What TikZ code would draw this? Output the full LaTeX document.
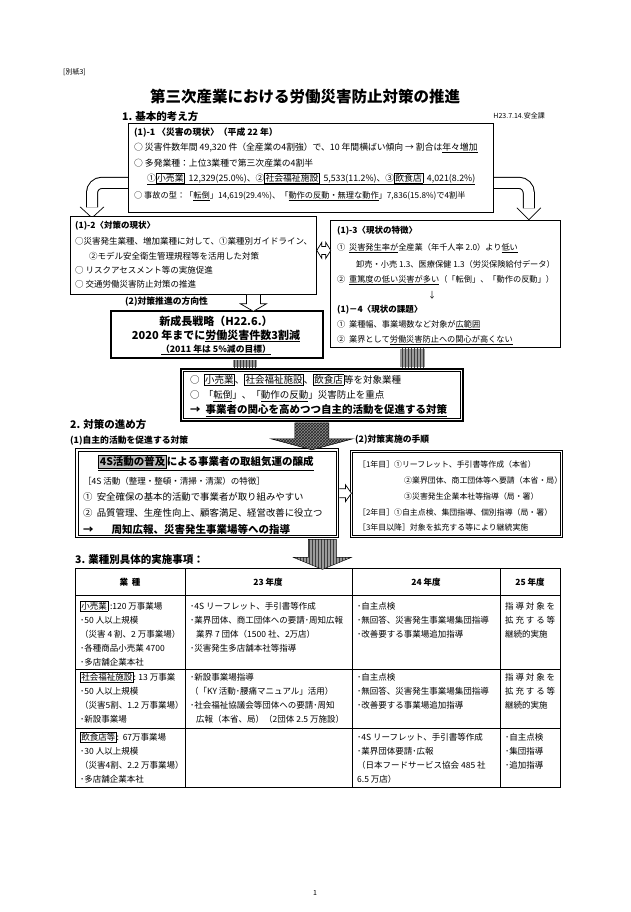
\documentclass[tikz,border=0pt]{standalone}
\usepackage{fontspec}
\setmainfont{Noto Sans CJK JP}
\usepackage{tikz}
\usetikzlibrary{calc,patterns,backgrounds}
\definecolor{kgray}{HTML}{9A9A9A}
\definecolor{kdark}{HTML}{3C3C3C}
\definecolor{kshade}{HTML}{BDBDBD}
\newcommand{\fsT}{\fontsize{15.5}{18}\selectfont}
\newcommand{\fsH}{\fontsize{10.5}{12}\selectfont}
\newcommand{\fsA}{\fontsize{8.8}{11}\selectfont}
\newcommand{\fsB}{\fontsize{8.5}{10}\selectfont}
\newcommand{\fsC}{\fontsize{8.2}{10}\selectfont}
\newcommand{\fsS}{\fontsize{7}{8}\selectfont}
\newcommand{\uln}[1]{\underline{#1}}
\newcommand{\kbox}[1]{{\setlength{\fboxsep}{0.7pt}\setlength{\fboxrule}{0.5pt}\fbox{#1}}}
\tikzset{
  frame/.style={draw,line width=0.8pt,fill=white,inner sep=0pt,anchor=north west},
  txt/.style={anchor=west,inner sep=0pt,font=\fsB},
  hdr/.style={anchor=west,inner sep=0pt,font=\fsH\bfseries},
  sub/.style={anchor=west,inner sep=0pt,font=\fsA\bfseries},
  cell/.style={anchor=west,inner sep=0pt,font=\fsB},
  hol/.style={draw,fill=white,line width=0.7pt},
  pipeo/.style={line width=12pt,rounded corners=10pt},
  pipei/.style={white,line width=10pt,rounded corners=10pt},
  stripe/.style={preaction={fill=kgray},pattern=vertical lines,pattern color=kdark},
  checker/.style={preaction={fill=black!45},pattern=crosshatch,pattern color=black!85},
}
\begin{document}
\begin{tikzpicture}[x=1pt,y=-1pt]
\useasboundingbox (0,0) rectangle (630,912);

% header
\node[txt,font=\fsS] (besshi) at (63,72) {[別紙3]};
\node[inner sep=0pt,font=\fsT\bfseries] (title) at (305,97) {第三次産業における労働災害防止対策の推進};
\node[hdr] (sec1) at (122,117) {1. 基本的考え方};
\node[anchor=east,inner sep=0pt,font=\fsS] (date) at (545,116) {H23.7.14.安全課};

% (1)-1
\node[frame,minimum width=365pt,minimum height=89pt] (bx11) at (128,123) {};
\node[sub] (g11) at (134,133) {(1)-1 〈災害の現状〉（平成 22 年）};
\node[txt,font=\fsA] (g11a) at (134,148) {○\ 災害件数年間 49,320 件（全産業の4割強）で、10 年間横ばい傾向 → 割合は\uln{年々増加}};
\node[txt,font=\fsA] (g11b) at (134,163) {○\ 多発業種：上位3業種で第三次産業の4割半};
\node[txt,font=\fsA] (g11c) at (147,179) {\uln{①\kbox{小売業}\ \ 12,329(25.0\%)、②\kbox{社会福祉施設}\ \ 5,533(11.2\%)、③\kbox{飲食店}\ \ 4,021(8.2\%)}};
\node[txt,font=\fsC] (g11d) at (134,196) {○\ 事故の型：「\uln{転倒}」14,619(29.4\%)、「\uln{動作の反動・無理な動作}」7,836(15.8\%)で4割半};

% (1)-2
\node[frame,minimum width=246pt,minimum height=78pt] (bx12) at (70,216) {};
\node[sub,font=\fsB\bfseries] (g12) at (75,226) {(1)-2〈対策の現状〉};
\node[txt] (g12a) at (75,241) {○災害発生業種、増加業種に対して、①業種別ガイドライン、};
\node[txt] (g12b) at (89,256) {②モデル安全衛生管理規程等を活用した対策};
\node[txt] (g12c) at (75,270) {○\ リスクアセスメント等の実施促進};
\node[txt] (g12d) at (75,284) {○\ 交通労働災害防止対策の推進};

% (1)-3 / (1)-4
\node[frame,minimum width=230pt,minimum height=127pt] (bx13) at (330,220) {};
\node[sub,font=\fsB\bfseries] (g13) at (337,231) {(1)-3〈現状の特徴〉};
\node[txt,font=\fsC] (g13a) at (337,248) {①\ \ \uln{災害発生率が}全産業（年千人率 2.0）より\uln{低い}};
\node[txt,font=\fsC] (g13b) at (356,264) {卸売・小売 1.3、医療保健 1.3（労災保険給付データ）};
\node[txt,font=\fsC] (g13c) at (337,280) {②\ \ \uln{重篤度の低い災害が多い}（「転倒」、「動作の反動」）};
\node[inner sep=0pt,font=\fsB] (g13d) at (432,295) {↓};
\node[sub,font=\fsB\bfseries] (g14) at (337,310) {(1)－4〈現状の課題〉};
\node[txt,font=\fsC] (g14a) at (337,325) {①\ \ 業種幅、事業場数など対象が\uln{広範囲}};
\node[txt,font=\fsC] (g14b) at (337,340) {②\ \ 業界として\uln{労働災害防止への関心が高くない}};

% (2) direction
\node[sub] (sec2h) at (125,302) {(2)対策推進の方向性};
\node[frame,line width=2.2pt,minimum width=212pt,minimum height=47pt] (seichou) at (110,310) {};
\node[inner sep=0pt,font=\fontsize{11}{13}\selectfont\bfseries] (s1) at (216,321) {新成長戦略（H22.6.）};
\node[inner sep=0pt,font=\fontsize{11}{13}\selectfont\bfseries] (s2) at (216,336) {2020 年までに\uln{労働災害件数3割減}};
\node[inner sep=0pt,font=\fsA\bfseries] (s3) at (216,350) {\uln{（2011 年は 5\%減の目標）}};

% target box
\node[frame,line width=1.8pt,minimum width=282pt,minimum height=52pt] (cen) at (180,368) {};
\draw[line width=0.5pt] ($(cen.north west)+(3.5,3.5)$) rectangle ($(cen.south east)+(-3.5,-3.5)$);
\node[txt,font=\fontsize{9.5}{11}\selectfont] (c1) at (190,380) {○\ \ \kbox{小売業}、\kbox{社会福祉施設}、\kbox{飲食店}等を対象業種};
\node[txt,font=\fontsize{9.5}{11}\selectfont] (c2) at (190,396) {○\ \ 「\uln{転倒}」、「\uln{動作の反動}」災害防止を重点};
\node[txt,font=\fsH\bfseries] (c3) at (190,411) {→\ \ \uln{事業者の関心を高めつつ自主的活動を促進する対策}};

% 2.
\node[hdr] (sec2) at (70,425) {2. 対策の進め方};
\node[sub] (sec21) at (70,441) {(1)自主的活動を促進する対策};
\node[sub] (sec22) at (355,440) {(2)対策実施の手順};

% 4S box
\node[frame,line width=1.4pt,minimum width=263pt,minimum height=89pt] (fours) at (75,448) {};
\draw[line width=0.6pt] ($(fours.north west)+(3.5,3.5)$) rectangle ($(fours.south east)+(-3.5,-3.5)$);
\node[inner sep=0pt,font=\fsH\bfseries] (f1) at (206,463) {\uln{{\setlength{\fboxsep}{1pt}\setlength{\fboxrule}{0.5pt}\fcolorbox{black}{kshade}{4S活動の普及}}による事業者の取組気運の醸成}};
\node[txt] (f2) at (83,481) {［4S 活動（整理・整頓・清掃・清潔）の特徴］};
\node[txt,font=\fontsize{9.4}{12}\selectfont] (f3) at (83,497) {①\ \ 安全確保の基本的活動で事業者が取り組みやすい};
\node[txt,font=\fontsize{9.4}{12}\selectfont] (f4) at (83,513) {②\ \ 品質管理、生産性向上、顧客満足、経営改善に役立つ};
\node[txt,font=\fsH\bfseries] (f5) at (83,530) {→\hspace{18pt}\uln{周知広報、災害発生事業場等への指導}};

% procedure box
\node[frame,line width=1pt,minimum width=212pt,minimum height=87pt] (tejun) at (350,450) {};
\draw[line width=0.5pt] ($(tejun.north west)+(2.5,2.5)$) rectangle ($(tejun.south east)+(-2.5,-2.5)$);
\node[txt,font=\fontsize{7.9}{10}\selectfont] (t1) at (358,464) {［1年目］①リーフレット、手引書等作成（本省）};
\node[txt,font=\fontsize{7.9}{10}\selectfont] (t2) at (404,480) {②業界団体、商工団体等へ要請（本省・局）};
\node[txt,font=\fontsize{7.9}{10}\selectfont] (t3) at (404,496) {③災害発生企業本社等指導（局・署）};
\node[txt,font=\fontsize{7.9}{10}\selectfont] (t4) at (358,512) {［2年目］①自主点検、集団指導、個別指導（局・署）};
\node[txt,font=\fontsize{7.9}{10}\selectfont] (t5) at (358,527) {［3年目以降］対象を拡充する等により継続実施};

% 3. table
\node[hdr] (sec3) at (75,560) {3. 業種別具体的実施事項：};
\node[draw,line width=1.4pt,inner sep=0pt,anchor=north west,minimum width=485pt,minimum height=219pt] (tbl) at (75,568) {};
\foreach \cx in {185,352,500} \draw[line width=0.8pt] (\cx,568) -- (\cx,787);
\foreach \ry in {595,669,728} \draw[line width=0.8pt] (75,\ry) -- (560,\ry);
\node[inner sep=0pt,font=\fsB\bfseries] (h1) at (130,582) {業\ \ 種};
\node[inner sep=0pt,font=\fsB\bfseries] (h2) at (268,582) {23 年度};
\node[inner sep=0pt,font=\fsB\bfseries] (h3) at (426,582) {24 年度};
\node[inner sep=0pt,font=\fsB\bfseries] (h4) at (530,582) {25 年度};

\node[cell] (r1a1) at (80,606) {\kbox{小売業}\ :120 万事業場};
\node[cell] (r1a2) at (80,620) {･50 人以上規模};
\node[cell] (r1a3) at (80,634) {（災害 4 割、2 万事業場）};
\node[cell] (r1a4) at (80,648) {･各種商品小売業 4700};
\node[cell] (r1a5) at (80,662) {･多店舗企業本社};
\node[cell] (r1b1) at (190,606) {･4S リーフレット、手引書等作成};
\node[cell] (r1b2) at (190,620) {･業界団体、商工団体への要請･周知広報};
\node[cell] (r1b3) at (196,634) {業界 7 団体（1500 社、2万店）};
\node[cell] (r1b4) at (190,648) {･災害発生多店舗本社等指導};
\node[cell] (r1c1) at (357,606) {･自主点検};
\node[cell] (r1c2) at (357,620) {･無回答、災害発生事業場集団指導};
\node[cell] (r1c3) at (357,634) {･改善要する事業場追加指導};
\node[cell] (r1d1) at (505,606) {\makebox[50pt]{指\hfill 導\hfill 対\hfill 象\hfill を}};
\node[cell] (r1d2) at (505,620) {\makebox[50pt]{拡\hfill 充\hfill す\hfill る\hfill 等}};
\node[cell] (r1d3) at (505,634) {継続的実施};

\node[cell] (r2a1) at (80,677) {\kbox{社会福祉施設}: 13 万事業};
\node[cell] (r2a2) at (80,691) {･50 人以上規模};
\node[cell] (r2a3) at (80,705) {（災害5割、1.2 万事業場）};
\node[cell] (r2a4) at (80,719) {･新設事業場};
\node[cell] (r2b1) at (190,677) {･新設事業場指導};
\node[cell] (r2b2) at (190,691) {（「KY 活動･腰痛マニュアル」活用）};
\node[cell] (r2b3) at (190,705) {･社会福祉協議会等団体への要請･周知};
\node[cell] (r2b4) at (196,719) {広報（本省、局）（2団体 2.5 万施設）};
\node[cell] (r2c1) at (357,677) {･自主点検};
\node[cell] (r2c2) at (357,691) {･無回答、災害発生事業場集団指導};
\node[cell] (r2c3) at (357,705) {･改善要する事業場追加指導};
\node[cell] (r2d1) at (505,677) {\makebox[50pt]{指\hfill 導\hfill 対\hfill 象\hfill を}};
\node[cell] (r2d2) at (505,691) {\makebox[50pt]{拡\hfill 充\hfill す\hfill る\hfill 等}};
\node[cell] (r2d3) at (505,705) {継続的実施};

\node[cell] (r3a1) at (80,737) {\kbox{飲食店等}:\ \ 67万事業場};
\node[cell] (r3a2) at (80,751) {･30 人以上規模};
\node[cell] (r3a3) at (80,765) {（災害4割、2.2 万事業場）};
\node[cell] (r3a4) at (80,779) {･多店舗企業本社};
\node[cell] (r3c1) at (357,737) {･4S リーフレット、手引書等作成};
\node[cell] (r3c2) at (357,751) {･業界団体要請･広報};
\node[cell] (r3c3) at (357,765) {（日本フードサービス協会 485 社};
\node[cell] (r3c4) at (357,779) {6.5 万店）};
\node[cell] (r3d1) at (505,737) {･自主点検};
\node[cell] (r3d2) at (505,751) {･集団指導};
\node[cell] (r3d3) at (505,765) {･追加指導};

\node[inner sep=0pt,font=\fsS] (pageno) at (315,893) {1};

% connectors
\begin{scope}[on background layer]
  \fill[white] (0,0) rectangle (630,912);
  % curved hollow arrows
  \draw[hol] ($(bx11.south west)+(-48,-6)$) -- ++(12,11) -- ++(12,-11);
  \draw[pipeo] ($(bx11.south west)+(0,-30)$) -- ++(-36,0) -- ++(0,24.6);
  \draw[pipei] ($(bx11.south west)+(0,-30)$) -- ++(-36,0) -- ++(0,24.6);
  \draw[hol] ($(bx11.south east)+(23,-5)$) -- ++(12,12) -- ++(12,-12);
  \draw[pipeo] ($(bx11.south east)+(0,-30)$) -- ++(35,0) -- ++(0,25.6);
  \draw[pipei] ($(bx11.south east)+(0,-30)$) -- ++(35,0) -- ++(0,25.6);
\end{scope}
% (1)-2 <-> (1)-3
\draw[hol] ($(bx12.east)+(0,-5)$) -- ++(5,-8) -- ++(0,4) -- ++(4,0) -- ++(0,-4) -- ++(5,8)
  -- ++(-5,8) -- ++(0,-4) -- ++(-4,0) -- ++(0,4) -- cycle;
% (1)-2 -> seichou
\filldraw[hol] ($(bx12.south)+(53,0)$) -- ++(0,9) -- ++(-6,0) -- ++(13,7.5) -- ++(13,-7.5) -- ++(-6,0) -- ++(0,-9);
% grey blocks into target box
\path[stripe] ($(seichou.south)+(16,1)$) rectangle ($(cen.north)+(-65,-1)$);
\path[stripe] ($(bx13.south)+(-45,1)$) rectangle ($(cen.north)+(103,-1)$);
% big arrow down
\draw[checker,line width=0.5pt] ($(cen.south)+(-27,1)$) -- ++(0,16) -- ++(-24,0) -- ++(41,11)
  -- ++(41,-11) -- ++(-24,0) -- ++(0,-16) -- cycle;
% 4S -> procedure
\draw[hol] ($(fours.east)+(0,-4.5)$) -- ++(6,0) -- ++(0,-4) -- ++(6,8.5) -- ++(-6,8.5) -- ++(0,-4) -- ++(-6,0);
% down to table
\draw[stripe,line width=0.4pt] ($(fours.south east)+(-31,1)$) -- ++(0,18) -- ++(-15,0) -- ++(29,12)
  -- ++(29,-12) -- ++(-15,0) -- ++(0,-18) -- cycle;
\end{tikzpicture}
\end{document}
